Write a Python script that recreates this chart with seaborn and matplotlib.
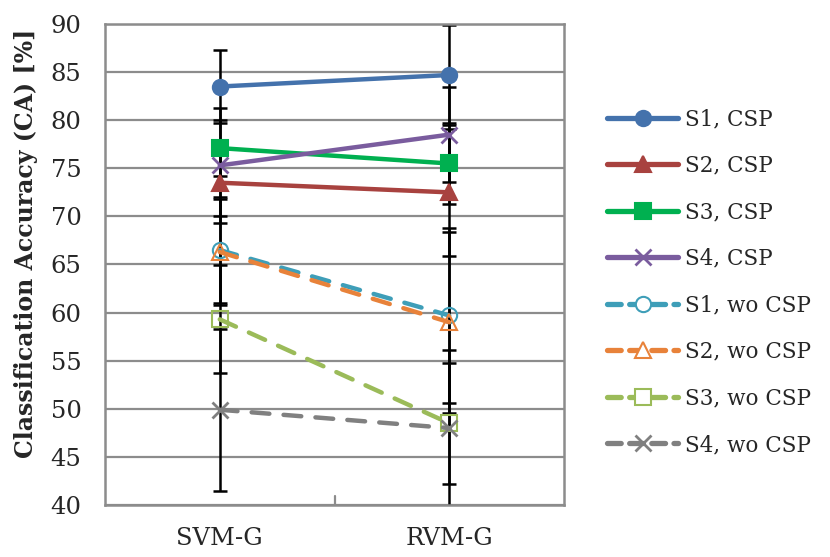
import matplotlib
matplotlib.use("Agg")
import matplotlib.pyplot as plt
import seaborn as sns
import pandas as pd
import numpy as np

categories = ["SVM-G", "RVM-G"]
series_names = ["S1, CSP", "S2, CSP", "S3, CSP", "S4, CSP",
                "S1, wo CSP", "S2, wo CSP", "S3, wo CSP", "S4, wo CSP"]
svm_values = [83.5, 73.5, 77.1, 75.3, 66.5, 66.3, 59.3, 49.9]
rvm_values = [84.7, 72.5, 75.5, 78.5, 59.7, 59.0, 48.5, 48.0]
svm_err = [3.8, 3.5, 2.9, 6.0, 5.5, 5.5, 5.6, 8.4]
rvm_err = [5.2, 6.6, 4.2, 4.9, 9.1, 9.4, 6.3, 8.1]

colors = ["#4472AC", "#A8423F", "#00B050", "#7A5C9E",
          "#3E9EB8", "#E8823A", "#9BBB59", "#808080"]
markers = ["o", "^", "s", "x", "o", "^", "s", "x"]
filled = [True, True, True, True, False, False, False, False]

sns.set_theme(style="white")
plt.rcParams['font.family'] = ['DejaVu Serif']

rows = []
for i, name in enumerate(series_names):
    rows.append({"series": name, "cat": categories[0], "x": 0, "acc": svm_values[i], "err": svm_err[i]})
    rows.append({"series": name, "cat": categories[1], "x": 1, "acc": rvm_values[i], "err": rvm_err[i]})
df = pd.DataFrame(rows)

fig = plt.figure(figsize=(8.3, 5.57), dpi=100)
ax = fig.add_axes([105/830, 1 - 505/557, (564-105)/830, (505-24)/557])

# error bars
for i, name in enumerate(series_names):
    d = df[df.series == name]
    ax.errorbar(d.x, d.acc, yerr=d.err, fmt="none", ecolor="black",
                elinewidth=1.8, capsize=5, capthick=1.8, zorder=2)

handles = []
for i, name in enumerate(series_names):
    d = df[df.series == name]
    dashed = not filled[i]
    sns.lineplot(data=d, x="x", y="acc", ax=ax, color=colors[i], lw=3.2,
                 linestyle=(0, (4, 3.2)) if dashed else "-",
                 dash_capstyle="round", solid_capstyle="round",
                 marker=markers[i], markersize=11,
                 markerfacecolor=colors[i] if filled[i] else "none",
                 markeredgecolor=colors[i],
                 markeredgewidth=1.5 if markers[i] != "x" else 2.0,
                 zorder=3, label=name, legend=False)
    handles.append(plt.Line2D([0], [0], color=colors[i], lw=3.8,
                              linestyle=(0, (2.6, 1.6)) if dashed else "-",
                              dash_capstyle="round", solid_capstyle="round",
                              marker=markers[i], markersize=11,
                              markerfacecolor=colors[i] if filled[i] else "white",
                              markeredgecolor=colors[i],
                              markeredgewidth=1.5 if markers[i] != "x" else 2.0))

ax.set_xlim(-0.5, 1.5)
ax.set_ylim(40, 90)
ax.set_yticks(np.arange(40, 91, 5))
ax.set_xticks([0, 1])
ax.set_xticklabels(categories)
ax.set_xlabel("")
ax.set_ylabel("Classification Accuracy (CA) [%]", fontsize=17, fontweight="bold")
ax.yaxis.set_label_coords(-0.146, 0.545)
ax.yaxis.grid(True, color="#8c8c8c", lw=1.6)
ax.set_axisbelow(True)
for s in ax.spines.values():
    s.set_visible(True)
    s.set_color("#8c8c8c")
    s.set_linewidth(1.8)
ax.tick_params(axis="both", length=0, labelsize=17.5)
ax.tick_params(axis="x", pad=16)
ax.tick_params(axis="y", pad=17)
# category separator tick
ax.plot([0.5, 0.5], [40, 40.9], color="#8c8c8c", lw=1.6, clip_on=False, zorder=1)

leg = fig.legend(handles, series_names, loc="upper left",
                 bbox_to_anchor=(590/830, 1 - 91/557), frameon=False,
                 fontsize=15.5, handlelength=3.3, labelspacing=1.14,
                 handletextpad=0.3, borderpad=0.3)

fig.savefig("out.png", dpi=100)
